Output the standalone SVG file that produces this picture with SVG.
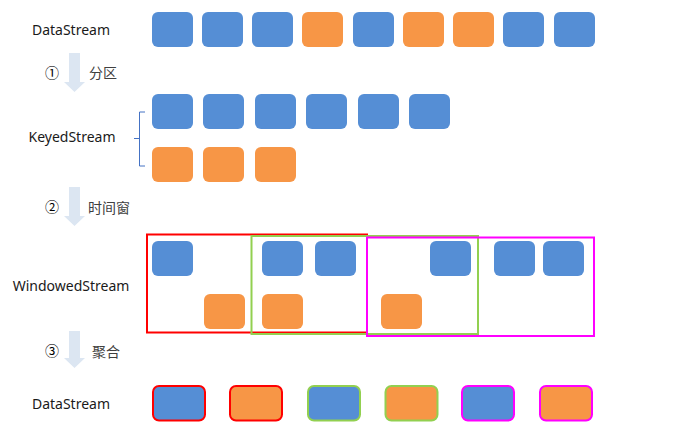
<svg xmlns="http://www.w3.org/2000/svg" width="686" height="435" viewBox="0 0 686 435">
<defs>
<style>
.b{fill:#558ED5}
.o{fill:#F79646}
.lbl{font-family:"Noto Sans","Noto Sans CJK SC",sans-serif;font-size:14px;fill:#1a1a1a;text-anchor:middle}
.cj{font-family:"Noto Sans CJK SC",sans-serif;font-size:14px;fill:#404040}
.num{font-family:"Noto Sans CJK SC",sans-serif;font-size:14px;fill:#000;text-anchor:middle}
.arr{fill:#DCE6F2}
.win{fill:none;stroke-width:2}
</style>
</defs>
<rect width="686" height="435" fill="#fff"/>

<g id="row-datastream">
<text class="lbl" x="71" y="35">DataStream</text>
<rect class="b" x="152" y="12" width="41" height="35" rx="6"/>
<rect class="b" x="202" y="12" width="41" height="35" rx="6"/>
<rect class="b" x="252" y="12" width="41" height="35" rx="6"/>
<rect class="o" x="302" y="12" width="41" height="35" rx="6"/>
<rect class="b" x="353" y="12" width="41" height="35" rx="6"/>
<rect class="o" x="403" y="12" width="41" height="35" rx="6"/>
<rect class="o" x="453" y="12" width="41" height="35" rx="6"/>
<rect class="b" x="503" y="12" width="41" height="35" rx="6"/>
<rect class="b" x="554" y="12" width="41" height="35" rx="6"/>
</g>

<g id="step1">
<polygon class="arr" points="69,53 80,53 80,82 85,82 74.5,92 64,82 69,82"/>
<text class="num" x="52" y="78">①</text>
<text class="cj" x="89" y="78">分区</text>
</g>

<g id="row-keyedstream">
<text class="lbl" x="72" y="142">KeyedStream</text>
<path d="M145,112 H139.5 V166 H145 M134,138.5 H139.5" fill="none" stroke="#4472C4" stroke-width="1"/>
<rect class="b" x="152" y="94" width="41" height="35" rx="6"/>
<rect class="b" x="203" y="94" width="41" height="35" rx="6"/>
<rect class="b" x="255" y="94" width="41" height="35" rx="6"/>
<rect class="b" x="306" y="94" width="41" height="35" rx="6"/>
<rect class="b" x="358" y="94" width="41" height="35" rx="6"/>
<rect class="b" x="409" y="94" width="41" height="35" rx="6"/>
<rect class="o" x="152" y="147" width="41" height="35" rx="6"/>
<rect class="o" x="203" y="147" width="41" height="35" rx="6"/>
<rect class="o" x="255" y="147" width="41" height="35" rx="6"/>
</g>

<g id="step2">
<polygon class="arr" points="69,187 80,187 80,216 85,216 74.5,226 64,216 69,216"/>
<text class="num" x="52" y="212">②</text>
<text class="cj" x="88" y="213">时间窗</text>
</g>

<g id="row-windowedstream">
<text class="lbl" x="71" y="291">WindowedStream</text>
<rect class="b" x="152" y="241" width="41" height="35" rx="6"/>
<rect class="o" x="204" y="294" width="41" height="35" rx="6"/>
<rect class="b" x="262" y="241" width="41" height="35" rx="6"/>
<rect class="b" x="315" y="241" width="41" height="35" rx="6"/>
<rect class="o" x="262" y="294" width="41" height="35" rx="6"/>
<rect class="o" x="381" y="294" width="41" height="35" rx="6"/>
<rect class="b" x="430" y="241" width="41" height="35" rx="6"/>
<rect class="b" x="494" y="241" width="41" height="35" rx="6"/>
<rect class="b" x="543" y="241" width="41" height="35" rx="6"/>
<rect class="win" x="147" y="234.5" width="220" height="98" stroke="#FF0000"/>
<rect class="win" x="251.5" y="236" width="226.5" height="98" stroke="#92D050"/>
<rect class="win" x="367" y="237.5" width="227" height="98.5" stroke="#FF00FF"/>
</g>

<g id="step3">
<polygon class="arr" points="69,331 80,331 80,358 85,358 74.5,368 64,358 69,358"/>
<text class="num" x="52" y="356">③</text>
<text class="cj" x="92" y="357">聚合</text>
</g>

<g id="row-result">
<text class="lbl" x="71" y="409">DataStream</text>
<rect class="b" x="153" y="386" width="52" height="34.5" rx="6" stroke="#FF0000" stroke-width="2"/>
<rect class="o" x="230" y="386" width="52" height="34.5" rx="6" stroke="#FF0000" stroke-width="2"/>
<rect class="b" x="308" y="386" width="52" height="34.5" rx="6" stroke="#92D050" stroke-width="2"/>
<rect class="o" x="385.5" y="386" width="52" height="34.5" rx="6" stroke="#92D050" stroke-width="2"/>
<rect class="b" x="462" y="386" width="52" height="34.5" rx="6" stroke="#FF00FF" stroke-width="2"/>
<rect class="o" x="540" y="386" width="52" height="34.5" rx="6" stroke="#FF00FF" stroke-width="2"/>
</g>
</svg>
